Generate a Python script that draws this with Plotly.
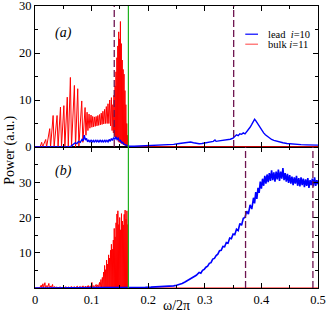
import plotly.graph_objects as go

# ---------------- data ----------------
# panel (a): lead i=10 (blue)
lead_a_freq = [0.000, 0.060, 0.064, 0.068, 0.071, 0.074, 0.077, 0.080, 0.083, 0.085,
               0.087, 0.089, 0.091, 0.093, 0.095, 0.097, 0.099, 0.101, 0.103, 0.105,
               0.107, 0.109, 0.111, 0.113, 0.115, 0.117, 0.119, 0.121, 0.123, 0.125,
               0.127, 0.129, 0.131, 0.133, 0.135, 0.137, 0.139, 0.141, 0.143, 0.145,
               0.147, 0.149, 0.151, 0.153, 0.155, 0.157, 0.159, 0.161, 0.163, 0.166,
               0.175, 0.185, 0.195, 0.205, 0.215, 0.225, 0.235, 0.245, 0.255, 0.265,
               0.270, 0.275, 0.280, 0.285, 0.290, 0.295, 0.300, 0.305, 0.310, 0.315,
               0.318, 0.320, 0.325, 0.330, 0.335, 0.340, 0.345, 0.350, 0.353, 0.356,
               0.359, 0.362, 0.365, 0.368, 0.371, 0.374, 0.377, 0.380, 0.383, 0.386,
               0.388, 0.390, 0.392, 0.395, 0.398, 0.401, 0.404, 0.407, 0.410, 0.414,
               0.418, 0.422, 0.427, 0.432, 0.438, 0.445, 0.452, 0.460, 0.470, 0.480,
               0.490, 0.500]
lead_a_power = [0.0, 0.0, 0.2, 0.5, 0.9, 0.7, 1.2, 1.0, 1.6, 1.3,
                2.5, 1.5, 1.8, 1.1, 1.5, 1.0, 1.5, 1.1, 1.4, 1.0,
                1.5, 1.1, 1.4, 1.0, 1.5, 1.1, 1.4, 1.0, 1.5, 1.1,
                1.4, 1.1, 1.6, 1.2, 1.8, 1.4, 2.0, 1.6, 2.2, 1.6,
                1.9, 1.3, 1.4, 0.9, 1.0, 0.6, 0.5, 0.3, 0.25, 0.15,
                0.15, 0.2, 0.25, 0.3, 0.3, 0.35, 0.4, 0.55, 0.75, 0.95,
                1.0, 1.05, 0.9, 0.75, 0.7, 0.75, 0.85, 0.9, 1.1, 1.2,
                1.5, 1.2, 1.3, 1.4, 1.45, 1.5, 1.65, 1.9, 2.3, 2.6,
                2.4, 2.8, 2.7, 3.0, 2.8, 3.2, 3.6, 4.2, 4.8, 5.3,
                5.9, 5.6, 5.2, 4.6, 4.0, 3.4, 3.0, 2.6, 2.3, 1.9,
                1.6, 1.4, 1.2, 1.05, 0.9, 0.75, 0.65, 0.55, 0.5, 0.45,
                0.4, 0.4]

# panel (a): bulk i=11 (red)
bulk_a_freq = [0.000, 0.009, 0.0118, 0.0135, 0.0189, 0.0205, 0.0260, 0.0275, 0.0320, 0.0338,
               0.0390, 0.0408, 0.0450, 0.0468, 0.0510, 0.0528, 0.0570, 0.0588, 0.0625, 0.0645,
               0.0696, 0.0716, 0.0755, 0.0775, 0.0826, 0.0846, 0.0885, 0.0900, 0.0920, 0.0935,
               0.0955, 0.0970, 0.0990, 0.1005, 0.1020, 0.1035, 0.1050, 0.1065, 0.1080, 0.1095,
               0.1110, 0.1125, 0.1140, 0.1155, 0.1170, 0.1185, 0.1200, 0.1215, 0.1230, 0.1245,
               0.1260, 0.1275, 0.1290, 0.1305, 0.1320, 0.1335, 0.1350, 0.1362, 0.1375, 0.1385,
               0.1395, 0.1405, 0.1415, 0.1423, 0.1431, 0.1439, 0.1447, 0.1455, 0.1463, 0.1471,
               0.1479, 0.1487, 0.1495, 0.1503, 0.1509, 0.1517, 0.1525, 0.1533, 0.1541, 0.1549,
               0.1557, 0.1565, 0.1573, 0.1581, 0.1589, 0.1597, 0.1605, 0.1613, 0.1621, 0.1629,
               0.1637, 0.1645, 0.1650, 0.1660, 0.5000]
bulk_a_power = [0.0, 0.0, 1.0, 0.0, 1.6, 0.0, 3.9, 0.0, 6.7, 0.0,
                6.7, 0.0, 8.5, 0.0, 8.8, 0.0, 10.6, 0.0, 14.8, 0.0,
                13.1, 0.0, 12.4, 0.2, 9.8, 1.0, 8.4, 2.5, 7.4, 3.5,
                7.0, 4.0, 6.8, 4.2, 6.5, 4.3, 6.4, 4.4, 6.5, 4.5,
                6.7, 4.6, 6.9, 4.7, 7.2, 4.8, 7.6, 4.9, 8.0, 5.0,
                8.6, 5.0, 9.2, 5.0, 10.0, 4.5, 10.5, 3.5, 9.0, 3.0,
                11.0, 2.5, 13.0, 2.0, 16.0, 1.8, 19.0, 1.5, 21.5, 1.2,
                24.5, 1.0, 23.0, 1.0, 26.7, 0.8, 22.0, 0.8, 18.5, 0.6,
                16.5, 0.5, 15.5, 0.4, 12.0, 0.3, 9.0, 0.3, 5.0, 0.2,
                2.5, 0.1, 0.3, 0.05, 0.05]

# panel (b): lead i=10 (blue)
lead_b_freq = [0.000, 0.160, 0.165, 0.175, 0.185, 0.195, 0.205, 0.215, 0.225, 0.235,
               0.245, 0.250, 0.255, 0.260, 0.265, 0.270, 0.275, 0.280, 0.285, 0.290,
               0.293, 0.296, 0.299, 0.302, 0.305, 0.308, 0.311, 0.314, 0.317, 0.320,
               0.323, 0.326, 0.329, 0.332, 0.335, 0.338, 0.341, 0.344, 0.347, 0.350,
               0.353, 0.356, 0.359, 0.362, 0.365, 0.368, 0.371, 0.374, 0.377, 0.380,
               0.383, 0.386, 0.388, 0.390, 0.392, 0.394, 0.396, 0.398, 0.400, 0.402,
               0.404, 0.406, 0.408, 0.410, 0.412, 0.414, 0.416, 0.418, 0.420, 0.422,
               0.424, 0.426, 0.428, 0.430, 0.432, 0.434, 0.436, 0.438, 0.440, 0.442,
               0.444, 0.446, 0.448, 0.450, 0.452, 0.454, 0.456, 0.458, 0.460, 0.462,
               0.464, 0.466, 0.468, 0.470, 0.472, 0.474, 0.476, 0.478, 0.480, 0.482,
               0.484, 0.486, 0.488, 0.490, 0.492, 0.494, 0.496, 0.498, 0.500]
lead_b_power = [0.0, 0.0, 0.1, 0.15, 0.2, 0.2, 0.25, 0.3, 0.35, 0.45,
                0.6, 0.8, 1.0, 1.3, 1.7, 2.2, 2.6, 3.2, 3.6, 4.4,
                4.2, 5.0, 5.3, 5.9, 6.2, 7.0, 7.2, 8.2, 8.4, 9.2,
                9.6, 10.6, 10.7, 11.8, 11.7, 12.9, 12.7, 14.2, 14.0, 15.3,
                15.1, 16.7, 16.3, 18.3, 17.8, 19.8, 20.0, 21.8, 21.0, 23.6,
                22.4, 25.6, 24.0, 27.2, 25.3, 28.4, 27.0, 30.2, 28.2, 31.0,
                29.0, 31.8, 29.6, 32.2, 30.0, 32.6, 30.4, 33.4, 30.6, 32.8,
                30.2, 33.0, 30.8, 33.6, 30.4, 33.0, 31.0, 34.0, 30.6, 32.6,
                30.2, 32.4, 29.8, 32.0, 29.6, 31.6, 29.2, 31.4, 29.6, 31.8,
                29.0, 31.2, 28.8, 31.4, 29.2, 31.0, 28.6, 30.8, 29.0, 31.2,
                28.4, 30.6, 29.2, 31.0, 28.8, 31.4, 29.0, 30.6, 29.4]

# panel (b): bulk i=11 (red)
bulk_b_freq = [0.000, 0.008, 0.0110, 0.0120, 0.0140, 0.0150, 0.0175, 0.0185, 0.0210, 0.0220,
               0.0245, 0.0255, 0.0280, 0.0290, 0.0310, 0.0320, 0.0350, 0.0360, 0.0390, 0.0400,
               0.0450, 0.0460, 0.0500, 0.0510, 0.0550, 0.0560, 0.0600, 0.0610, 0.0650, 0.0660,
               0.0700, 0.0710, 0.0750, 0.0760, 0.0800, 0.0810, 0.0850, 0.0860, 0.0900, 0.0910,
               0.0940, 0.0950, 0.0980, 0.0990, 0.1005, 0.1015, 0.1040, 0.1050, 0.1080, 0.1090,
               0.1110, 0.1120, 0.1140, 0.1150, 0.1165, 0.1175, 0.1190, 0.1200, 0.1212, 0.1220,
               0.1230, 0.1238, 0.1248, 0.1256, 0.1265, 0.1273, 0.1282, 0.1290, 0.1300, 0.1308,
               0.1316, 0.1324, 0.1334, 0.1342, 0.1350, 0.1358, 0.1366, 0.1374, 0.1384, 0.1392,
               0.1400, 0.1408, 0.1416, 0.1424, 0.1432, 0.1440, 0.1448, 0.1456, 0.1464, 0.1472,
               0.1480, 0.1488, 0.1496, 0.1504, 0.1512, 0.1520, 0.1528, 0.1536, 0.1544, 0.1552,
               0.1560, 0.1568, 0.1576, 0.1584, 0.1592, 0.1600, 0.1608, 0.1616, 0.1624, 0.1632,
               0.1640, 0.1646, 0.1650, 0.5000]
bulk_b_power = [0.0, 0.0, 0.8, 0.05, 1.2, 0.05, 1.5, 0.05, 0.7, 0.05,
                1.3, 0.05, 0.6, 0.05, 1.0, 0.05, 0.4, 0.05, 0.3, 0.05,
                0.3, 0.05, 0.2, 0.05, 0.35, 0.05, 0.3, 0.05, 0.4, 0.05,
                0.35, 0.05, 0.5, 0.05, 0.45, 0.05, 0.6, 0.05, 0.5, 0.05,
                0.7, 0.05, 0.6, 0.05, 1.6, 0.05, 0.7, 0.05, 1.0, 0.05,
                0.9, 0.05, 1.6, 0.05, 2.4, 0.1, 3.0, 0.1, 4.5, 0.1,
                6.4, 0.1, 5.2, 0.1, 7.9, 0.1, 6.8, 0.1, 9.4, 0.1,
                8.5, 0.1, 10.7, 0.1, 12.4, 0.1, 11.0, 0.1, 13.6, 0.1,
                16.9, 0.1, 14.5, 0.1, 18.5, 0.1, 21.0, 0.1, 21.9, 0.1,
                18.0, 0.1, 20.0, 0.1, 16.5, 0.1, 21.1, 0.1, 19.0, 0.1,
                17.9, 0.1, 20.9, 0.1, 22.1, 0.1, 19.5, 0.1, 21.9, 0.1,
                18.0, 0.1, 0.0, 0.0]

green_freq = 0.165
dashed_a_freq = [0.140, 0.351]
dashed_b_freq = [0.372, 0.491]

x_ticks = [0, 0.1, 0.2, 0.3, 0.4, 0.5]
x_ticktext = ["0", "0.1", "0.2", "0.3", "0.4", "0.5"]
ya_ticks = [0, 10, 20, 30]
ya_ticktext = ["0", "10", "20", "30"]
yb_ticks = [0, 10, 20, 30, 40]
yb_ticktext = ["", "10", "20", "30", ""]

lead_name = "lead\u00a0\u00a0<i>i</i>=10"
bulk_name = "bulk <i>i</i>=11"

# ---------------- figure ----------------
BLUE = "#0000ff"
RED = "#ff0000"
MAROON = "#6e1450"
GREEN = "#1cb21c"
FONT = "Liberation Serif, Times New Roman, serif"

fig = go.Figure()
fig.add_trace(go.Scatter(x=bulk_a_freq, y=bulk_a_power, mode="lines", name=bulk_name,
                         line=dict(color=RED, width=1), xaxis="x2", yaxis="y2", showlegend=False))
fig.add_trace(go.Scatter(x=lead_a_freq, y=lead_a_power, mode="lines", name=lead_name,
                         line=dict(color=BLUE, width=1.4), xaxis="x2", yaxis="y2", showlegend=False))
fig.add_trace(go.Scatter(x=bulk_b_freq, y=bulk_b_power, mode="lines", name=bulk_name,
                         line=dict(color=RED, width=1), xaxis="x", yaxis="y", showlegend=False))
fig.add_trace(go.Scatter(x=lead_b_freq, y=lead_b_power, mode="lines", name=lead_name,
                         line=dict(color=BLUE, width=1.6), xaxis="x", yaxis="y", showlegend=False))

shapes = []
for f in dashed_a_freq:
    shapes.append(dict(type="line", xref="x2", yref="y2 domain", x0=f, x1=f, y0=0, y1=1,
                       line=dict(color=MAROON, width=1.3, dash="7px,3px")))
for f in dashed_b_freq:
    shapes.append(dict(type="line", xref="x", yref="y domain", x0=f, x1=f, y0=0, y1=1,
                       line=dict(color=MAROON, width=1.3, dash="7px,3px")))
shapes.append(dict(type="line", xref="x", yref="paper", x0=green_freq, x1=green_freq, y0=0, y1=1,
                   line=dict(color=GREEN, width=1.2)))
# legend swatches (panel a, upper right)
shapes.append(dict(type="line", xref="paper", yref="paper", x0=0.743, x1=0.788, y0=0.900, y1=0.900,
                   line=dict(color=BLUE, width=1.2)))
shapes.append(dict(type="line", xref="paper", yref="paper", x0=0.743, x1=0.788, y0=0.8645, y1=0.8645,
                   line=dict(color="#ff6060", width=1.2)))

annotations = [
    dict(text="<i>(a)</i>", x=0.05, y=24.3, xref="x2", yref="y2", showarrow=False,
         font=dict(size=14, family=FONT, color="black")),
    dict(text="<i>(b)</i>", x=0.05, y=33.2, xref="x", yref="y", showarrow=False,
         font=dict(size=14, family=FONT, color="black")),
    dict(text=lead_name, x=0.816, y=0.900, xref="paper", yref="paper", xanchor="left",
         yanchor="middle", showarrow=False, font=dict(size=10.5, family=FONT, color="black")),
    dict(text=bulk_name, x=0.816, y=0.8645, xref="paper", yref="paper", xanchor="left",
         yanchor="middle", showarrow=False, font=dict(size=10.5, family=FONT, color="black")),
    dict(text="ω/2π", x=0.499, y=-0.061, xref="paper", yref="paper", xanchor="center",
         yanchor="middle", showarrow=False, font=dict(size=14, family=FONT, color="black")),
    dict(text="Power (a.u.)", x=-0.088, y=0.487, xref="paper", yref="paper", textangle=-90,
         xanchor="center", yanchor="middle", showarrow=False,
         font=dict(size=14, family=FONT, color="black")),
]

axis_common = dict(showline=True, linecolor="black", linewidth=1, mirror="allticks",
                   ticks="inside", ticklen=5, tickwidth=1, tickcolor="black",
                   showgrid=False, zeroline=False, ticklabeloverflow="allow",
                   tickfont=dict(size=12.5, family=FONT, color="black"))

fig.update_layout(
    width=327, height=316,
    margin=dict(l=35, r=9, t=6, b=28, autoexpand=False),
    paper_bgcolor="white", plot_bgcolor="white",
    showlegend=False,
    shapes=shapes, annotations=annotations,
    xaxis=dict(domain=[0, 1], anchor="y", range=[0, 0.5], tickvals=x_ticks, ticktext=x_ticktext,
               minor=dict(ticks="inside", dtick=0.05, ticklen=3, tickcolor="black"),
               **axis_common),
    xaxis2=dict(domain=[0, 1], anchor="y2", range=[0, 0.5], matches="x", tickvals=x_ticks,
                showticklabels=False,
                minor=dict(ticks="inside", dtick=0.05, ticklen=3, tickcolor="black"),
                **axis_common),
    yaxis=dict(domain=[0, 0.5], anchor="x", range=[0, 40], tickvals=yb_ticks, ticktext=yb_ticktext,
               minor=dict(ticks="inside", dtick=5, ticklen=3, tickcolor="black"),
               **axis_common),
    yaxis2=dict(domain=[0.5, 1], anchor="x2", range=[0, 30], tickvals=ya_ticks,
                ticktext=ya_ticktext,
                minor=dict(ticks="inside", dtick=5, ticklen=3, tickcolor="black"),
                **axis_common),
)

fig.write_html("out.html", config={"displayModeBar": False},
               post_script="document.body.style.margin='0';")
